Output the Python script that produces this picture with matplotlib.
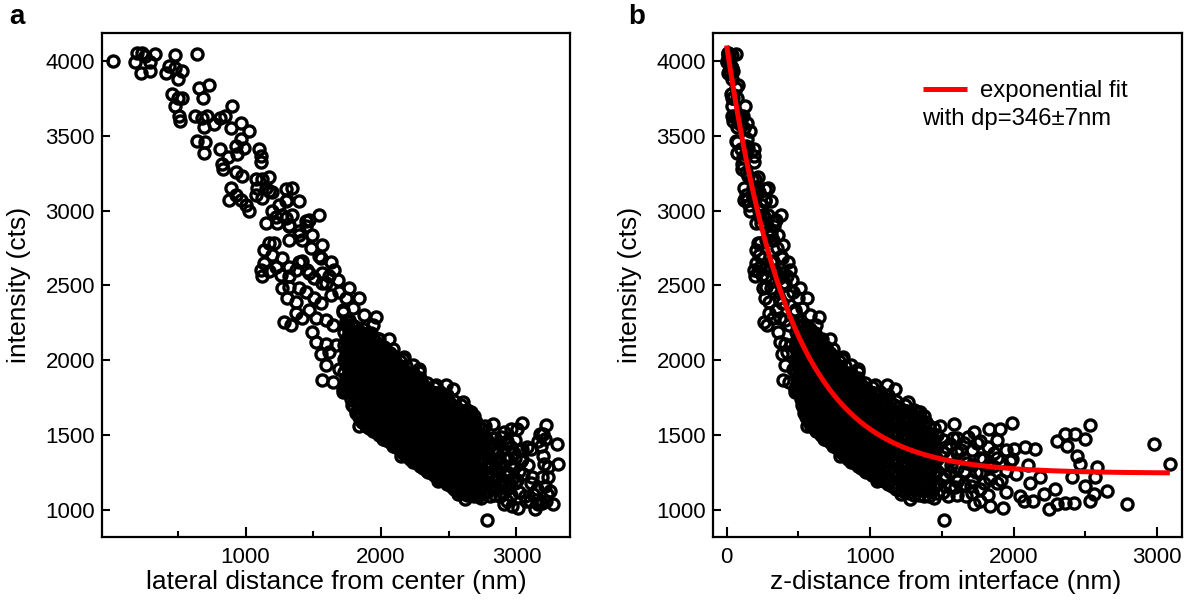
import numpy as np
import matplotlib
matplotlib.use("Agg")
import matplotlib.pyplot as plt
from matplotlib.ticker import FixedLocator, NullLocator

plt.rcParams["font.family"] = ["Liberation Sans", "DejaVu Sans"]

# values: lateral distance (nm), z-distance (nm), intensity (cts)
# the same measurement appears in both panels, so each point carries both distances

# top of the curve (r < ~1050 nm)
a_lat = [25, 185, 197, 234, 229, 296, 333, 296, 260, 432,
         476, 412, 476, 530, 501, 641, 654, 728, 684, 456,
         501, 530, 476, 506, 519, 630, 678, 716, 690, 765,
         815, 850, 901, 889, 963, 1024, 641, 700, 691, 815,
         827, 837, 870, 926, 938, 963, 988, 926, 975, 889,
         876, 926, 963, 1000, 1024]
a_z = [0, 5, 6, 8, 8, 13, 17, 13, 10, 28,
       35, 26, 35, 43, 38, 63, 66, 81, 72, 32,
       38, 43, 35, 39, 41, 61, 71, 79, 73, 90,
       102, 111, 125, 122, 143, 162, 63, 75, 73, 102,
       105, 108, 117, 133, 136, 143, 150, 133, 147, 122,
       118, 133, 143, 154, 162]
a_int = [4000, 3994, 4054, 4054, 3920, 3930, 4043, 3989, 4030, 3966,
         4036, 3920, 3950, 3930, 3876, 4049, 3821, 3837, 3754, 3777,
         3754, 3754, 3698, 3631, 3597, 3631, 3620, 3631, 3560, 3575,
         3620, 3631, 3698, 3553, 3586, 3530, 3466, 3455, 3383, 3410,
         3310, 3277, 3355, 3432, 3377, 3477, 3421, 3255, 3232, 3150,
         3072, 3105, 3072, 3038, 2994]

# steep middle part (2500..3400 cts)
b_lat = [1099, 1111, 1111, 1074, 1124, 1173, 1148, 1086, 1124, 1074,
         1197, 1296, 1345, 1247, 1308, 1197, 1148, 1235, 1296, 1345,
         1320, 1394, 1444, 1543, 1420, 1320, 1136, 1197, 1173, 1123,
         1259, 1320, 1370, 1420, 1469, 1543, 1568, 1617, 1568, 1173,
         1395, 1297, 1222, 1272, 1469, 1444, 1321, 1395, 1494, 1568,
         1210, 1136, 1173, 1111, 1271, 1222, 1321, 1395, 1482, 1457,
         1556, 1630, 1654, 1679, 1593, 1506]
b_z = [188, 192, 192, 179, 197, 215, 206, 183, 197, 179,
       224, 264, 286, 244, 270, 224, 206, 239, 264, 286,
       275, 307, 332, 382, 320, 275, 201, 224, 215, 197,
       249, 275, 297, 320, 344, 382, 395, 421, 395, 215,
       307, 264, 234, 254, 344, 332, 275, 307, 356, 395,
       229, 201, 215, 192, 254, 234, 275, 307, 350, 338,
       388, 429, 443, 457, 408, 362]
b_int = [3410, 3366, 3321, 3210, 3210, 3221, 3150, 3150, 3083, 3105,
         3127, 3143, 3150, 3038, 3072, 2994, 2915, 2915, 2950, 2972,
         2905, 2860, 2927, 2972, 2805, 2805, 2650, 2705, 2594, 2560,
         2572, 2560, 2605, 2660, 2583, 2694, 2583, 2560, 2516, 3128,
         3061, 3061, 2960, 2970, 2939, 2894, 2894, 2838, 2838, 2771,
         2782, 2737, 2782, 2603, 2681, 2626, 2626, 2659, 2749, 2603,
         2681, 2659, 2603, 2537, 2516, 2549]

# 1800..2500 cts
c_lat = [1271, 1321, 1395, 1309, 1370, 1444, 1506, 1556, 1630, 1691,
         1741, 1766, 1840, 1790, 1716, 1877, 1963, 1938, 1901, 1840,
         1741, 1642, 1593, 1519, 1420, 1333, 1284, 1370, 1469, 1494,
         1519, 1593, 1556, 1617, 1667, 1593, 1691, 1568, 1642, 1766,
         1815, 1840, 1914, 1988, 2062, 2087, 2012, 1914, 1815, 1766,
         1716, 1889, 1988, 2062, 2160, 2234, 2284, 2136, 2210, 2012,
         1914, 2111, 2309, 2407, 2481]
c_z = [254, 275, 307, 270, 297, 332, 362, 388, 429, 464,
       494, 510, 557, 525, 479, 582, 644, 625, 599, 557,
       494, 436, 408, 369, 320, 280, 259, 297, 344, 356,
       369, 408, 388, 421, 450, 408, 464, 395, 436, 510,
       541, 557, 608, 662, 719, 740, 680, 608, 541, 510,
       479, 591, 662, 719, 801, 866, 913, 780, 844, 680,
       608, 759, 937, 1036, 1117]
c_int = [2480, 2491, 2480, 2413, 2391, 2458, 2413, 2380, 2436, 2458,
         2413, 2480, 2413, 2346, 2335, 2302, 2290, 2234, 2184, 2195,
         2262, 2234, 2268, 2279, 2279, 2234, 2257, 2313, 2335, 2190,
         2122, 2111, 2044, 2056, 2100, 1966, 1943, 1865, 1854, 2056,
         2122, 2011, 2056, 2145, 2144, 2078, 2033, 1966, 1922, 1832,
         1788, 1877, 1922, 1966, 2010, 1966, 1922, 1877, 1832, 1832,
         1788, 1788, 1832, 1832, 1832]

# edges of the dense tail
d_lat = [1716, 1901, 2173, 2284, 1741, 1766, 1716, 1839, 1815, 1938,
         2012, 2012, 2086, 2148, 2185, 2333, 2530, 2605, 2667, 2345,
         2419, 2567, 2617, 2785, 2827, 2802, 2876]
d_z = [479, 599, 811, 913, 494, 510, 479, 557, 541, 625,
       680, 680, 739, 790, 820, 960, 1174, 1264, 1346, 972,
       1048, 1218, 1280, 1515, 1584, 1543, 1667]
d_int = [2323, 2167, 2021, 1943, 2010, 1877, 1810, 1563, 1720, 1810,
         1720, 1474, 1429, 1362, 1563, 1675, 1810, 1720, 1653, 1250,
         1194, 1105, 1071, 933, 1574, 1093, 1093]

e_lat = [3038, 3001, 2962, 2906, 2766, 3043, 3076, 3104, 3038, 3156,
         3175, 3195, 3220, 3212, 3178, 3198, 3204, 3233, 3230, 3188,
         3212, 3228, 3248, 3220, 3191, 3175, 3156, 3137, 3153, 3125,
         3117, 3273, 3297, 3307, 3100, 3073, 3012, 2967, 2906, 2660,
         2833, 2931, 3062, 3106, 2967, 2790, 2795, 2815, 2825, 2845,
         2855, 2880, 2885, 2895, 2915, 2920, 2940, 2945, 2975, 2980,
         3005, 3030, 3050, 3085]
e_z = [1989, 1907, 1826, 1721, 1489, 2000, 2081, 2151, 1989, 2303,
       2361, 2431, 2535, 2500, 2373, 2442, 2465, 2582, 2570, 2407,
       2500, 2558, 2652, 2535, 2419, 2361, 2303, 2245, 2291, 2210,
       2186, 2792, 2977, 3089, 2139, 2070, 1930, 1837, 1721, 1337,
       1593, 1768, 2047, 2116, 1837, 1525, 1532, 1565, 1581, 1614,
       1631, 1674, 1683, 1700, 1737, 1746, 1784, 1794, 1854, 1864,
       1916, 1972, 2016, 2104]
e_int = [1581, 1541, 1541, 1518, 1560, 1406, 1418, 1406, 1339, 1463,
         1507, 1507, 1567, 1474, 1429, 1362, 1306, 1284, 1217, 1217,
         1161, 1105, 1127, 1060, 1049, 1049, 1038, 1004, 1139, 1105,
         1217, 1038, 1440, 1306, 1060, 1060, 1015, 1027, 1038, 1653,
         1150, 1138, 1094, 1183, 1205, 1230, 1420, 1300, 1480, 1200,
         1400, 1310, 1490, 1160, 1250, 1450, 1340, 1180, 1290, 1380,
         1200, 1330, 1240, 1300]

# dense band: points stacked at common lateral distances
fill_lat = [1725, 1750, 1775, 1800, 1825, 1850, 1875, 1900, 1925, 1950,
            1975, 2000, 2025, 2050, 2075, 2100, 2125, 2150, 2175, 2200,
            2225, 2250, 2275, 2300, 2325, 2350, 2375, 2400, 2425, 2450,
            2475, 2500, 2525, 2550, 2575, 2600, 2625, 2650, 2675, 2700,
            2725, 2750, 2780, 2810, 2840, 2870, 2900, 2930, 2960, 2990,
            3020]
fill_z = [485, 500, 515, 531, 547, 564, 581, 598, 616, 634,
          652, 671, 690, 710, 730, 750, 771, 792, 813, 835,
          857, 880, 904, 928, 952, 977, 1002, 1028, 1055, 1082,
          1110, 1138, 1167, 1197, 1227, 1258, 1290, 1323, 1357, 1392,
          1428, 1464, 1510, 1556, 1606, 1657, 1709, 1765, 1823, 1885,
          1949]
fill_int = [
    [1830, 1920, 2010, 2100, 2190],
    [1790, 1875, 1965, 2055, 2145, 2235],
    [1740, 1830, 1920, 2010, 2100, 2190],
    [1690, 1780, 1870, 1960, 2050, 2140, 2230],
    [1660, 1745, 1835, 1925, 2015, 2105, 2195],
    [1630, 1720, 1810, 1900, 1990, 2080, 2170],
    [1600, 1685, 1775, 1865, 1955, 2045, 2135, 2210],
    [1590, 1680, 1770, 1860, 1950, 2040, 2130],
    [1570, 1650, 1740, 1830, 1920, 2010, 2100, 2180],
    [1560, 1645, 1735, 1825, 1915, 2005, 2095],
    [1540, 1620, 1710, 1800, 1890, 1980, 2070, 2140],
    [1530, 1610, 1700, 1790, 1880, 1970, 2060],
    [1510, 1590, 1680, 1770, 1860, 1950, 2040, 2090],
    [1500, 1580, 1670, 1760, 1850, 1940, 2030],
    [1480, 1560, 1650, 1740, 1830, 1920, 2010],
    [1460, 1545, 1635, 1725, 1815, 1905, 1995],
    [1440, 1520, 1610, 1700, 1790, 1880, 1970],
    [1420, 1505, 1595, 1685, 1775, 1865, 1955],
    [1400, 1480, 1570, 1660, 1750, 1840, 1930],
    [1380, 1465, 1555, 1645, 1735, 1825, 1915],
    [1360, 1440, 1530, 1620, 1710, 1800, 1890],
    [1350, 1430, 1520, 1610, 1700, 1790, 1870],
    [1330, 1410, 1500, 1590, 1680, 1770, 1850],
    [1320, 1400, 1490, 1580, 1670, 1760, 1840],
    [1300, 1380, 1470, 1560, 1650, 1740, 1820],
    [1290, 1370, 1460, 1550, 1640, 1730, 1800],
    [1270, 1350, 1440, 1530, 1620, 1710, 1790],
    [1260, 1340, 1430, 1520, 1610, 1700, 1780],
    [1240, 1320, 1410, 1500, 1590, 1680, 1770],
    [1230, 1310, 1400, 1490, 1580, 1670, 1750],
    [1210, 1290, 1380, 1470, 1560, 1650, 1740],
    [1200, 1280, 1370, 1460, 1550, 1640, 1720],
    [1180, 1260, 1350, 1440, 1530, 1620, 1700],
    [1170, 1250, 1340, 1430, 1520, 1610, 1690],
    [1160, 1240, 1330, 1420, 1510, 1600, 1670],
    [1150, 1230, 1320, 1410, 1500, 1590, 1660],
    [1140, 1220, 1310, 1400, 1490, 1580, 1640],
    [1140, 1220, 1300, 1390, 1480, 1560, 1620],
    [1130, 1210, 1290, 1380, 1470, 1550, 1600],
    [1130, 1200, 1280, 1370, 1450, 1530, 1590],
    [1120, 1190, 1270, 1350, 1430, 1510],
    [1110, 1180, 1260, 1340, 1420, 1500],
    [1120, 1210, 1300, 1390, 1470],
    [1150, 1250, 1350, 1440],
    [1100, 1190, 1280, 1380, 1480],
    [1170, 1260, 1350, 1450],
    [1110, 1200, 1300, 1400],
    [1060, 1250, 1350, 1460],
    [1100, 1290, 1420],
    [1180, 1350, 1470],
    [1120, 1260, 1400],
]

# second, interleaved layer of the dense band
fill2_lat = [1738, 1763, 1788, 1813, 1838, 1863, 1888, 1913, 1938, 1963,
             1988, 2013, 2038, 2063, 2088, 2113, 2138, 2163, 2188, 2213,
             2238, 2263, 2288, 2313, 2338, 2363, 2388, 2413, 2438, 2463,
             2488, 2513, 2538, 2563, 2588, 2613, 2638, 2663, 2688, 2713,
             2738]
fill2_z = [492, 507, 523, 539, 555, 572, 589, 607, 625, 643,
           661, 680, 700, 720, 740, 760, 781, 802, 824, 846,
           868, 892, 916, 940, 964, 989, 1015, 1041, 1068, 1096,
           1124, 1152, 1182, 1212, 1242, 1274, 1306, 1340, 1374, 1410,
           1446]
fill2_int = [
    [1785, 1875, 1965, 2055, 2145, 2235],
    [1835, 1920, 2010, 2100, 2190, 2270],
    [1700, 1785, 1875, 1965, 2055, 2145, 2235],
    [1650, 1735, 1825, 1915, 2005, 2095, 2185],
    [1620, 1705, 1790, 1880, 1970, 2060, 2150],
    [1590, 1675, 1765, 1855, 1945, 2035, 2125, 2215],
    [1560, 1640, 1730, 1820, 1910, 2000, 2090, 2175],
    [1545, 1635, 1725, 1815, 1905, 1995, 2085, 2160],
    [1530, 1610, 1695, 1785, 1875, 1965, 2055, 2140],
    [1520, 1600, 1690, 1780, 1870, 1960, 2050, 2120],
    [1500, 1575, 1665, 1755, 1845, 1935, 2025, 2100],
    [1490, 1570, 1655, 1745, 1835, 1925, 2015, 2080],
    [1470, 1550, 1635, 1725, 1815, 1905, 1995, 2065],
    [1455, 1540, 1625, 1715, 1805, 1895, 1985, 2045],
    [1440, 1520, 1605, 1695, 1785, 1875, 1965, 2030],
    [1420, 1500, 1590, 1680, 1770, 1860, 1950],
    [1400, 1480, 1565, 1655, 1745, 1835, 1925, 1995],
    [1380, 1460, 1550, 1640, 1730, 1820, 1910],
    [1360, 1440, 1525, 1615, 1705, 1795, 1885, 1960],
    [1340, 1420, 1510, 1600, 1690, 1780, 1870],
    [1320, 1400, 1485, 1575, 1665, 1755, 1845, 1915],
    [1310, 1390, 1475, 1565, 1655, 1745, 1830],
    [1290, 1370, 1455, 1545, 1635, 1725, 1810, 1880],
    [1280, 1360, 1445, 1535, 1625, 1715, 1800],
    [1260, 1340, 1425, 1515, 1605, 1695, 1780, 1850],
    [1250, 1330, 1415, 1505, 1595, 1685, 1765],
    [1235, 1310, 1395, 1485, 1575, 1665, 1745, 1820],
    [1220, 1300, 1385, 1475, 1565, 1655, 1735],
    [1200, 1280, 1365, 1455, 1545, 1635, 1715, 1790],
    [1190, 1270, 1355, 1445, 1535, 1625, 1705],
    [1170, 1250, 1335, 1425, 1515, 1605, 1690, 1765],
    [1160, 1240, 1325, 1415, 1505, 1595, 1675],
    [1140, 1220, 1305, 1395, 1485, 1575, 1655, 1730],
    [1130, 1210, 1295, 1385, 1475, 1565, 1640],
    [1120, 1200, 1285, 1375, 1465, 1555, 1630, 1700],
    [1110, 1190, 1275, 1365, 1455, 1545, 1620],
    [1100, 1180, 1265, 1355, 1445, 1530, 1600, 1665],
    [1100, 1180, 1260, 1345, 1435, 1515, 1590],
    [1090, 1170, 1250, 1335, 1420, 1500, 1570, 1625],
    [1090, 1160, 1240, 1320, 1400, 1480, 1560],
    [1080, 1150, 1230, 1310, 1390, 1470, 1550],
]

# exponential fit curve as drawn in panel b
FIT_AMP = 2858
FIT_OFFSET = 1245
FIT_DECAY = 440
FIT_END = 3090

cols_lat = fill_lat + fill2_lat
cols_z = fill_z + fill2_z
cols_int = fill_int + fill2_int

lat = np.concatenate([a_lat, b_lat, c_lat, d_lat, e_lat]
                     + [np.full(len(c), r) for r, c in zip(cols_lat, cols_int)])
zdist = np.concatenate([a_z, b_z, c_z, d_z, e_z]
                       + [np.full(len(c), z) for z, c in zip(cols_z, cols_int)])
inten = np.concatenate([a_int, b_int, c_int, d_int, e_int] + [np.array(c) for c in cols_int])

fig = plt.figure(figsize=(11.98, 6.01), dpi=100)
axa = fig.add_axes([0.0851, 0.1065, 0.3907, 0.8386])
axb = fig.add_axes([0.5952, 0.1065, 0.3915, 0.8386])

mk = dict(ls="none", marker="o", mfc="none", mec="black", ms=8.0, mew=2.4)
axa.plot(lat, inten, **mk)
axb.plot(zdist, inten, **mk)

zf = np.linspace(0, FIT_END, 400)
axb.plot(zf, FIT_OFFSET + FIT_AMP * np.exp(-zf / FIT_DECAY), color="red", lw=3.6,
         solid_capstyle="butt", label="exponential fit", zorder=5)

axa.set_xlim(-60, 3395)
axb.set_xlim(-95, 3175)
axa.xaxis.set_major_locator(FixedLocator([1000, 2000, 3000]))
axb.xaxis.set_major_locator(FixedLocator([0, 1000, 2000, 3000]))

for ax in (axa, axb):
    ax.set_ylim(819, 4186)
    ax.yaxis.set_major_locator(FixedLocator([1000, 1500, 2000, 2500, 3000, 3500, 4000]))
    ax.yaxis.set_minor_locator(NullLocator())
    ax.xaxis.set_minor_locator(FixedLocator([500, 1500, 2500]))
    for s in ax.spines.values():
        s.set_linewidth(1.6)
    ax.tick_params(which="both", direction="in", width=1.5, labelsize=16)
    ax.tick_params(axis="y", which="major", length=6, pad=5)
    ax.tick_params(axis="x", which="major", length=7, pad=7)
    ax.tick_params(axis="x", which="minor", length=4.5)
    ax.set_ylabel("intensity (cts)", fontsize=19)
    ax.yaxis.set_label_coords(-0.152, 0.5)

axa.set_xlabel("lateral distance from center (nm)", fontsize=19)
axb.set_xlabel("z-distance from interface (nm)", fontsize=19)
axa.xaxis.set_label_coords(0.5, -0.066)
axb.xaxis.set_label_coords(0.495, -0.066)

axb.legend(loc="upper left", bbox_to_anchor=(0.4478, 0.907), frameon=False, fontsize=17.2,
           handlelength=1.85, handletextpad=0.55, borderpad=0, borderaxespad=0)
axb.text(0.4456, 0.8175, "with dp=346\u00b17nm", transform=axb.transAxes, fontsize=17.2,
         ha="left", va="baseline")

fig.text(9 / 1198, 1 - 24 / 601, "a", fontsize=20, fontweight="bold", va="baseline")
fig.text(628 / 1198, 1 - 24 / 601, "b", fontsize=20, fontweight="bold", va="baseline")

fig.savefig("out.png", dpi=100)
